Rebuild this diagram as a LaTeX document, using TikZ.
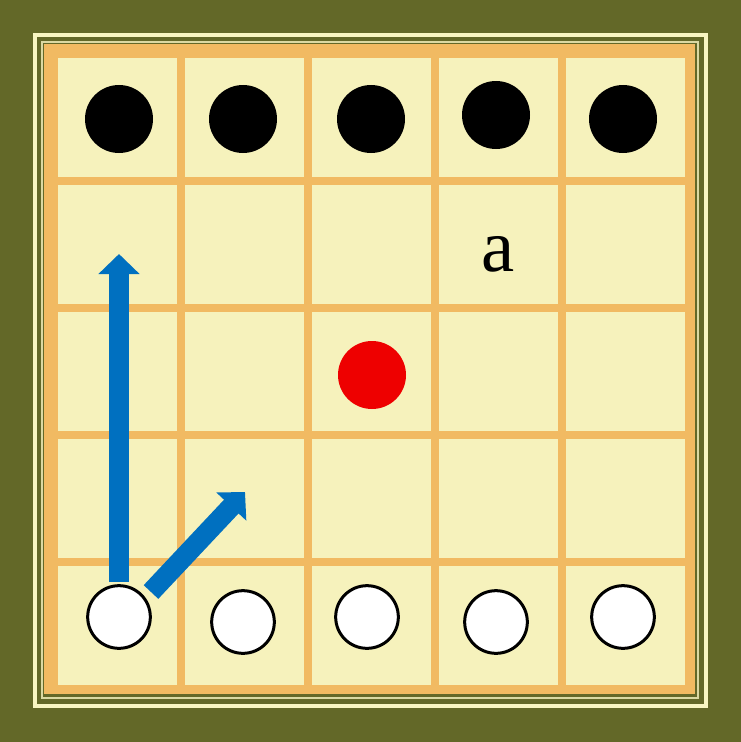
\documentclass[tikz,border=0pt]{standalone}
\usepackage{fontspec}
\setmainfont{Liberation Serif}
\usepackage{xcolor}
\usetikzlibrary{arrows.meta,positioning,calc}
\definecolor{olive}{HTML}{636828}
\definecolor{framecream}{HTML}{F8F5C2}
\definecolor{boardorange}{HTML}{F1BA62}
\definecolor{cellyellow}{HTML}{F6F2BC}
\definecolor{moveblue}{HTML}{0070C0}
\definecolor{piecered}{HTML}{EE0000}

\begin{document}
\begin{tikzpicture}[line cap=butt,line join=miter,x=0.75pt,y=-0.75pt,
    blackpiece/.style={circle,fill=black,inner sep=0pt,minimum size=51pt},
    whitepiece/.style={circle,draw=black,line width=2.25pt,fill=white,inner sep=0pt,minimum size=47pt},
    redpiece/.style={circle,fill=piecered,inner sep=0pt,minimum size=51pt},
    movearrow/.style={draw=moveblue,line width=15pt,-{Triangle[width=30pt,length=15pt]}}]
                \useasboundingbox (0,0) rectangle (741,742);
                \fill [olive] (0,0) rectangle (741,742);
                % frame
                \draw [framecream,line width=3pt] (35,35) rectangle (706,706);
                \draw [framecream!80!olive,line width=1.8pt] (42,42) rectangle (698,698);
                \fill [boardorange] (44,44) rectangle (695,694);
                % cells
                \foreach \i in {0,...,4}
                    \foreach \j in {0,...,4}
                        \fill [cellyellow] (58+127*\i,58+127*\j) rectangle (177+127*\i,177+127*\j);
                % pieces
                \node [blackpiece] (b1) at (119,119) {};
                \node [blackpiece] (b2) at (243,119) {};
                \node [blackpiece] (b3) at (371,119) {};
                \node [blackpiece] (b4) at (496,115) {};
                \node [blackpiece] (b5) at (623,119) {};
                \node [redpiece] (r1) at (372,375) {};
                \node [whitepiece] (w1) at (119,617) {};
                \node [whitepiece] (w2) at (243,622) {};
                \node [whitepiece] (w3) at (367,617) {};
                \node [whitepiece] (w4) at (496,622) {};
                \node [whitepiece] (w5) at (623,617) {};
                \node [font=\fontsize{56}{60}\selectfont] (lbl) at (498,254) {a};
                % moves
                \coordinate (up start) at (119,582);
                \coordinate (up tip) at (119,254);
                \coordinate (diag start) at (151,592);
                \coordinate (diag tip) at (245,492);
                \draw [movearrow] (up start) -- (up tip);
                \draw [movearrow] (diag start) -- (diag tip);
            \end{tikzpicture}
\end{document}
